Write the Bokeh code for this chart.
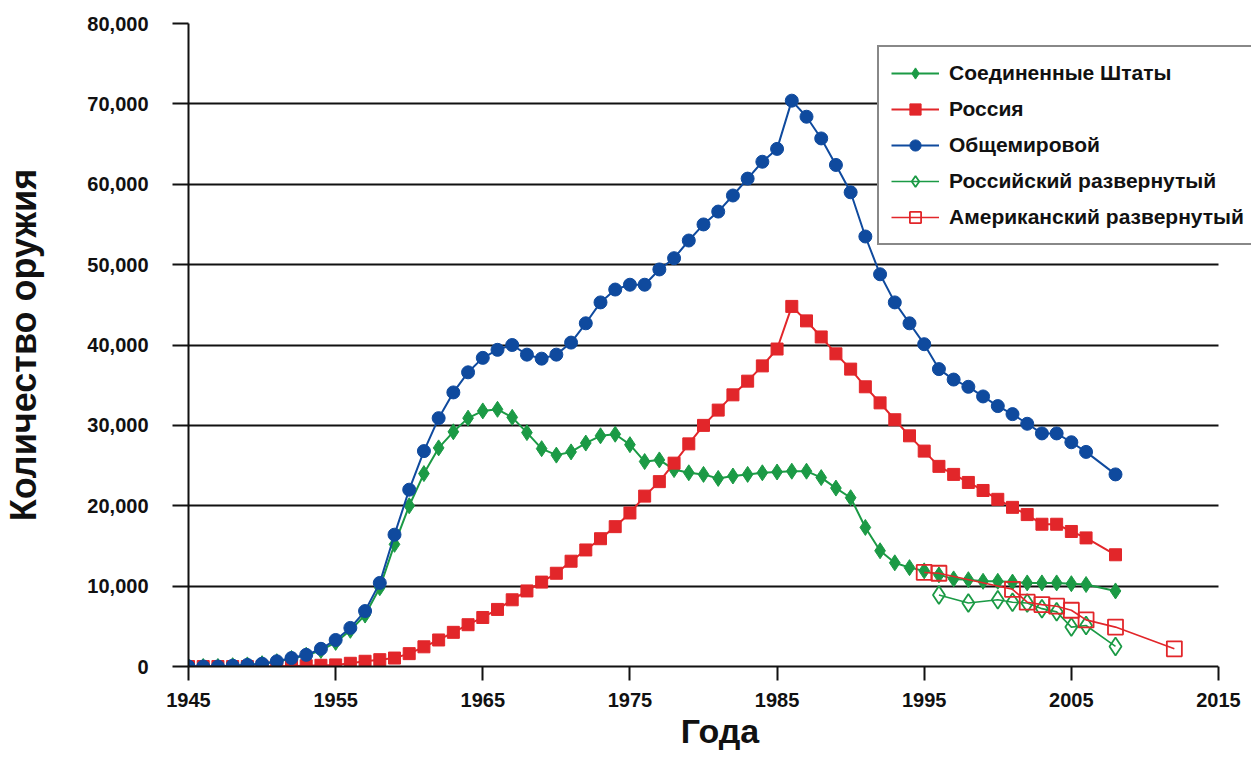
from bokeh.plotting import figure
from bokeh.models import FixedTicker, NumeralTickFormatter, Legend, LegendItem, BoxAnnotation
from bokeh.embed import file_html
from bokeh.resources import INLINE

# ---- data ----
years = list(range(1945, 2007)) + [2008]

us_total = [0, 0, 0, 100, 200, 350, 600, 1000, 1400, 2000,
            3000, 4500, 6400, 9800, 15200, 20000, 24000, 27200, 29200, 30900,
            31800, 32000, 31000, 29100, 27100, 26300, 26700, 27800, 28700, 28900,
            27600, 25500, 25700, 24500, 24100, 23900, 23400, 23700, 23900, 24100,
            24200, 24300, 24300, 23500, 22200, 21000, 17300, 14400, 12900, 12300,
            11900, 11400, 10900, 10800, 10600, 10600, 10500, 10400, 10400, 10400,
            10300, 10200, 9400]

russia_total = [0, 0, 0, 0, 0, 0, 0, 50, 100, 150,
                200, 400, 650, 850, 1050, 1600, 2450, 3300, 4250, 5200,
                6100, 7100, 8300, 9400, 10500, 11600, 13100, 14500, 15900, 17400,
                19100, 21200, 23000, 25300, 27700, 30000, 31900, 33800, 35500, 37400,
                39500, 44800, 43000, 41000, 38900, 37000, 34800, 32800, 30700, 28700,
                26800, 24900, 23900, 22900, 21900, 20800, 19800, 18900, 17700, 17700,
                16800, 16000, 13900]

world_total = [0, 0, 0, 100, 200, 350, 650, 1050, 1450, 2200,
               3300, 4800, 6900, 10400, 16400, 22000, 26800, 30900, 34100, 36600,
               38400, 39400, 40000, 38800, 38300, 38800, 40300, 42700, 45300, 46900,
               47500, 47500, 49400, 50800, 53000, 55000, 56600, 58600, 60700, 62800,
               64400, 70400, 68400, 65700, 62400, 59000, 53500, 48800, 45300, 42700,
               40100, 37000, 35700, 34800, 33600, 32400, 31400, 30200, 29000, 29000,
               27900, 26700, 23900]

ru_dep_years = [1996, 1998, 2000, 2001, 2002, 2003, 2004, 2005, 2006, 2008]
ru_deployed = [8900, 7900, 8300, 8000, 7900, 7200, 6800, 4900, 5100, 2500]

us_dep_years = [1995, 1996, 2001, 2002, 2003, 2004, 2005, 2006, 2008, 2012]
us_deployed = [11700, 11600, 9600, 8000, 7700, 7500, 7000, 5800, 4900, 2200]

y_ticks = [0, 10000, 20000, 30000, 40000, 50000, 60000, 70000, 80000]
x_ticks = [1945, 1955, 1965, 1975, 1985, 1995, 2005, 2015]

labels = ["Соединенные Штаты", "Россия", "Общемировой",
          "Российский развернутый", "Американский развернутый"]

GREEN = "#1b9a45"
RED = "#e2262a"
BLUE = "#0f4a9e"
INK = "#111111"

# layout: the 1945..2015 span is 1030 px; the frame is a bit wider so the
# legend (which overhangs the last grid year in the original) is not clipped
FRAME_W = 1063
X_END = 2015 + (FRAME_W - 1030) / (1030 / 70)

p = figure(frame_width=FRAME_W, frame_height=643,
           x_range=(1945, X_END), y_range=(0, 80000),
           output_backend="svg", toolbar_location=None,
           min_border_left=184, min_border_right=0,
           min_border_top=23, min_border_bottom=89,
           background_fill_color="white", border_fill_color="white")
p.outline_line_color = None

# series
l1 = p.line(years, us_total, line_color=GREEN, line_width=2)
s1 = p.scatter(years, us_total, marker="diamond", size=16,
               fill_color=GREEN, line_color=GREEN)
l2 = p.line(years, russia_total, line_color=RED, line_width=2)
s2 = p.scatter(years, russia_total, marker="square", size=12,
               fill_color=RED, line_color=RED)
l3 = p.line(years, world_total, line_color=BLUE, line_width=2)
s3 = p.scatter(years, world_total, marker="circle", size=13,
               fill_color=BLUE, line_color=BLUE)
l4 = p.line(ru_dep_years, ru_deployed, line_color=GREEN, line_width=1.6)
s4 = p.scatter(ru_dep_years, ru_deployed, marker="diamond", size=18,
               fill_color=None, line_color=GREEN, line_width=1.8)
l5 = p.line(us_dep_years, us_deployed, line_color=RED, line_width=1.6)
s5 = p.scatter(us_dep_years, us_deployed, marker="square", size=15,
               fill_color=None, line_color=RED, line_width=1.8)

# axes
p.yaxis.ticker = FixedTicker(ticks=y_ticks)
p.yaxis.formatter = NumeralTickFormatter(format="0,0")
p.xaxis.ticker = FixedTicker(ticks=x_ticks)
p.xaxis.bounds = (1945, 2015)

for ax in (p.xaxis[0], p.yaxis[0]):
    ax.axis_line_color = INK
    ax.axis_line_width = 2
    ax.major_tick_line_color = INK
    ax.major_tick_line_width = 2
    ax.major_tick_in = 0
    ax.minor_tick_line_color = None
    ax.axis_label_text_font = "Liberation Sans"
    ax.axis_label_text_font_style = "bold"
    ax.axis_label_text_color = INK
    ax.major_label_text_color = INK
    ax.major_label_text_font = "Liberation Sans"
    ax.major_label_text_font_style = "bold"

p.yaxis.major_tick_out = 16
p.yaxis.major_label_standoff = 24
p.yaxis.major_label_text_font_size = "20px"
p.yaxis.axis_label = "Количество оружия"
p.yaxis.axis_label_text_font_size = "36px"
p.yaxis.axis_label_standoff = 40

p.xaxis.major_tick_out = 14
p.xaxis.major_label_standoff = 12
p.xaxis.major_label_text_font_size = "20px"
p.xaxis.axis_label = "Года"
p.xaxis.axis_label_text_font_size = "34px"
p.xaxis.axis_label_standoff = 2

p.xgrid.grid_line_color = None
p.ygrid.grid_line_color = INK
p.ygrid.grid_line_width = 2

# blank out the grid beyond the last year, as in the original
p.add_layout(BoxAnnotation(left=2015, fill_color="white", fill_alpha=1,
                           line_color=None))

legend = Legend(items=[
    LegendItem(label=labels[0], renderers=[l1, s1]),
    LegendItem(label=labels[1], renderers=[l2, s2]),
    LegendItem(label=labels[2], renderers=[l3, s3]),
    LegendItem(label=labels[3], renderers=[l4, s4]),
    LegendItem(label=labels[4], renderers=[l5, s5]),
], location=(689, 421))
legend.border_line_color = INK
legend.border_line_width = 2
legend.background_fill_color = "white"
legend.background_fill_alpha = 1
legend.label_text_font = "Liberation Sans"
legend.label_text_font_style = "bold"
legend.label_text_font_size = "21px"
legend.label_text_color = INK
legend.glyph_width = 48
legend.glyph_height = 28
legend.label_height = 28
legend.spacing = 8
legend.padding = 12
legend.label_standoff = 10
legend.margin = 0
p.add_layout(legend)

open("out.html", "w").write(file_html(p, INLINE))
